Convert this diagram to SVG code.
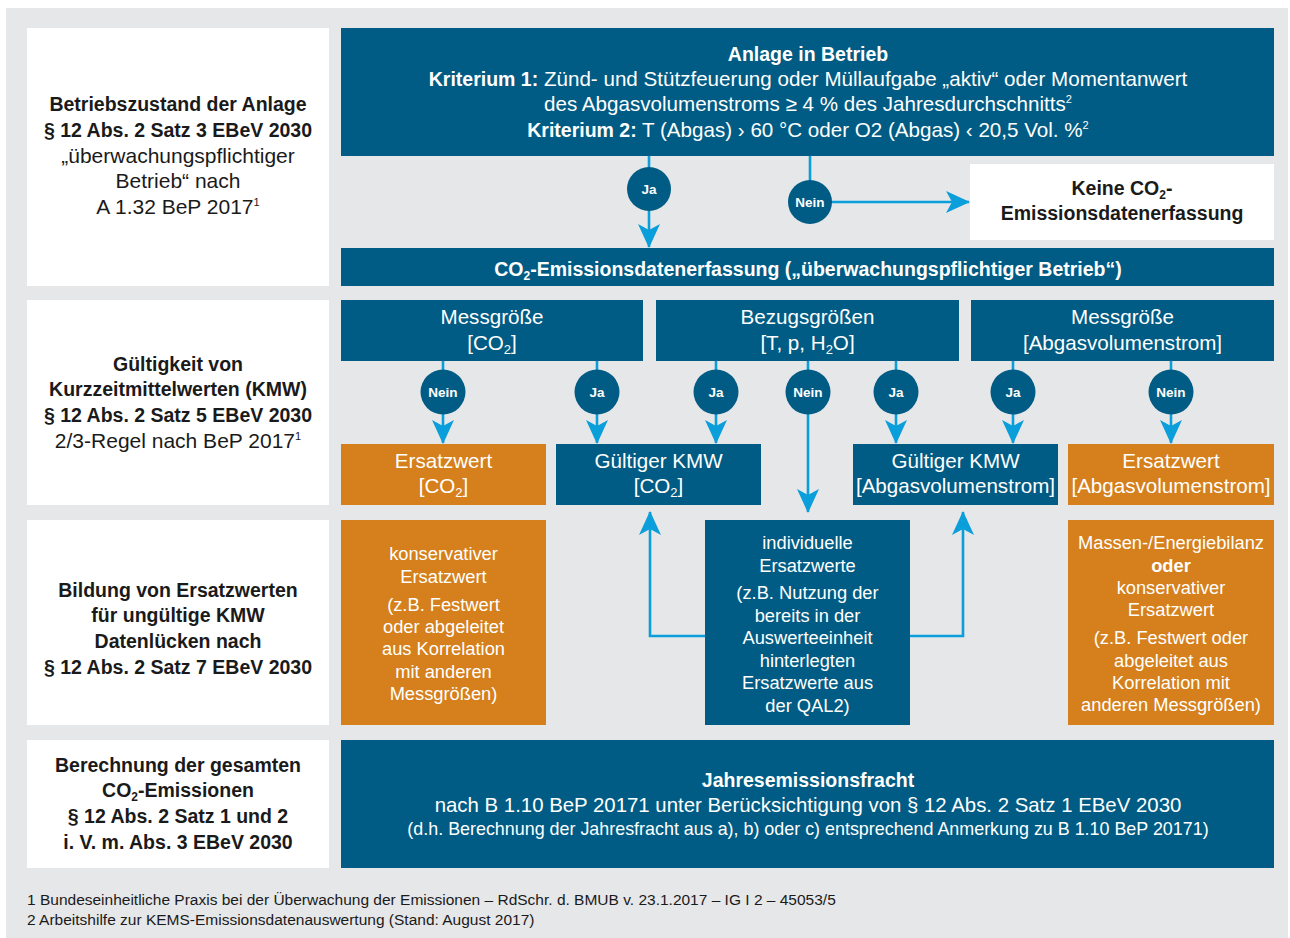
<svg xmlns="http://www.w3.org/2000/svg" width="1290" height="938" viewBox="0 0 1290 938">
<style>
text{font-family:"Liberation Sans",Arial,sans-serif;text-anchor:middle}
.w{fill:#ffffff}
.k{fill:#1a1a1a}
.b{font-weight:bold;font-size:19.5px}
.blue{fill:#005c84}
.orange{fill:#d5801c}
.white{fill:#ffffff}
.f21{font-size:21px}
.f206{font-size:20.6px}
.f18{font-size:18.3px}
.lbl{font-size:13.5px;font-weight:bold;fill:#ffffff}
.con{stroke:#0a9edb;stroke-width:2.6;fill:none}
.foot{font-size:15.5px;text-anchor:start;fill:#1a1a1a}
</style>
<defs>
<marker id="ah" markerUnits="userSpaceOnUse" viewBox="0 0 24 22" markerWidth="24" markerHeight="22" refX="23" refY="11" orient="auto">
<path d="M0,0 L24,11 L0,22 L6,11 z" fill="#0a9edb"/>
</marker>
</defs>
<rect x="6" y="8" width="1282" height="930" fill="#e6e7e9"/>

<g id="left-col">
<g id="l1"><rect x="27" y="28" width="302" height="258" class="white"/>
<text class="k b" x="178" y="111">Betriebszustand der Anlage</text>
<text class="k b" x="178" y="137">§ 12 Abs. 2 Satz 3 EBeV 2030</text>
<text class="k f21" x="178" y="163">„überwachungspflichtiger</text>
<text class="k f21" x="178" y="188">Betrieb“ nach</text>
<text class="k f21" x="178" y="214">A 1.32 BeP 2017<tspan font-size="11" dy="-8">1</tspan></text>
</g>
<g id="l2"><rect x="27" y="300" width="302" height="205" class="white"/>
<text class="k b" x="178" y="371">Gültigkeit von</text>
<text class="k b" x="178" y="396">Kurzzeitmittelwerten (KMW)</text>
<text class="k b" x="178" y="422">§ 12 Abs. 2 Satz 5 EBeV 2030</text>
<text class="k f21" x="178" y="448">2/3-Regel nach BeP 2017<tspan font-size="11" dy="-8">1</tspan></text>
</g>
<g id="l3"><rect x="27" y="520" width="302" height="205" class="white"/>
<text class="k b" x="178" y="597">Bildung von Ersatzwerten</text>
<text class="k b" x="178" y="622">für ungültige KMW</text>
<text class="k b" x="178" y="648">Datenlücken nach</text>
<text class="k b" x="178" y="674">§ 12 Abs. 2 Satz 7 EBeV 2030</text>
</g>
<g id="l4"><rect x="27" y="740" width="302" height="128" class="white"/>
<text class="k b" x="178" y="772">Berechnung der gesamten</text>
<text class="k b" x="178" y="797">CO<tspan font-size="12" dy="4">2</tspan><tspan dy="-4">-Emissionen</tspan></text>
<text class="k b" x="178" y="823">§ 12 Abs. 2 Satz 1 und 2</text>
<text class="k b" x="178" y="849">i. V. m. Abs. 3 EBeV 2030</text>
</g>
</g>

<g id="connectors">
<line class="con" x1="649" y1="156" x2="649" y2="247" marker-end="url(#ah)"/>
<polyline class="con" points="810,156 810,202 969,202" marker-end="url(#ah)"/>
<line class="con" x1="443" y1="361" x2="443" y2="443" marker-end="url(#ah)"/>
<line class="con" x1="597" y1="361" x2="597" y2="443" marker-end="url(#ah)"/>
<line class="con" x1="716" y1="361" x2="716" y2="443" marker-end="url(#ah)"/>
<line class="con" x1="808" y1="361" x2="808" y2="512" marker-end="url(#ah)"/>
<line class="con" x1="896" y1="361" x2="896" y2="443" marker-end="url(#ah)"/>
<line class="con" x1="1013" y1="361" x2="1013" y2="443" marker-end="url(#ah)"/>
<line class="con" x1="1171" y1="361" x2="1171" y2="443" marker-end="url(#ah)"/>
<polyline class="con" points="705,636 650,636 650,512" marker-end="url(#ah)"/>
<polyline class="con" points="910,636 963,636 963,512" marker-end="url(#ah)"/>
</g>

<g id="anlage"><rect x="341" y="28" width="933" height="128" class="blue"/>
<text class="w b" x="808" y="61">Anlage in Betrieb</text>
<text class="w f206" x="808" y="86"><tspan class="b">Kriterium 1:</tspan> Zünd- und Stützfeuerung oder Müllaufgabe „aktiv“ oder Momentanwert</text>
<text class="w f206" x="808" y="111">des Abgasvolumenstroms ≥ 4 % des Jahresdurchschnitts<tspan font-size="11" dy="-8">2</tspan></text>
<text class="w f206" x="808" y="137"><tspan class="b">Kriterium 2:</tspan> T (Abgas) › 60 °C oder O2 (Abgas) ‹ 20,5 Vol. %<tspan font-size="11" dy="-8">2</tspan></text>
</g>
<g id="ja-top"><circle cx="649" cy="189" r="22" class="blue"/><text class="lbl" x="649" y="194">Ja</text></g>
<g id="nein-top"><circle cx="810" cy="202" r="22" class="blue"/><text class="lbl" x="810" y="207">Nein</text></g>
<g id="keine"><rect x="970" y="164" width="304" height="76" class="white"/>
<text class="k b" x="1122" y="195">Keine CO<tspan font-size="12" dy="4">2</tspan><tspan dy="-4">-</tspan></text>
<text class="k b" x="1122" y="220">Emissionsdatenerfassung</text>
</g>
<g id="erfassung"><rect x="341" y="248" width="933" height="38" class="blue"/>
<text class="w b" x="808" y="276">CO<tspan font-size="12" dy="4">2</tspan><tspan dy="-4">-Emissionsdatenerfassung („überwachungspflichtiger Betrieb“)</tspan></text>
</g>

<g id="mess-co2"><rect x="341" y="300" width="302" height="61" class="blue"/>
<text class="w f206" x="492" y="324">Messgröße</text>
<text class="w f206" x="492" y="350">[CO<tspan font-size="13" dy="4">2</tspan><tspan dy="-4">]</tspan></text>
</g>
<g id="bezug"><rect x="656" y="300" width="303" height="61" class="blue"/>
<text class="w f206" x="807.5" y="324">Bezugsgrößen</text>
<text class="w f206" x="807.5" y="350">[T, p, H<tspan font-size="13" dy="4">2</tspan><tspan dy="-4">O]</tspan></text>
</g>
<g id="mess-abgas"><rect x="971" y="300" width="303" height="61" class="blue"/>
<text class="w f206" x="1122.5" y="324">Messgröße</text>
<text class="w f206" x="1122.5" y="350">[Abgasvolumenstrom]</text>
</g>

<g id="c1"><circle cx="443" cy="392" r="22.5" class="blue"/><text class="lbl" x="443" y="397">Nein</text></g>
<g id="c2"><circle cx="597" cy="392" r="22.5" class="blue"/><text class="lbl" x="597" y="397">Ja</text></g>
<g id="c3"><circle cx="716" cy="392" r="22.5" class="blue"/><text class="lbl" x="716" y="397">Ja</text></g>
<g id="c4"><circle cx="808" cy="392" r="22.5" class="blue"/><text class="lbl" x="808" y="397">Nein</text></g>
<g id="c5"><circle cx="896" cy="392" r="22.5" class="blue"/><text class="lbl" x="896" y="397">Ja</text></g>
<g id="c6"><circle cx="1013" cy="392" r="22.5" class="blue"/><text class="lbl" x="1013" y="397">Ja</text></g>
<g id="c7"><circle cx="1171" cy="392" r="22.5" class="blue"/><text class="lbl" x="1171" y="397">Nein</text></g>

<g id="ersatz-co2"><rect x="341" y="444" width="205" height="61" class="orange"/>
<text class="w f206" x="443.5" y="468">Ersatzwert</text>
<text class="w f206" x="443.5" y="493">[CO<tspan font-size="13" dy="4">2</tspan><tspan dy="-4">]</tspan></text>
</g>
<g id="kmw-co2"><rect x="556" y="444" width="205" height="61" class="blue"/>
<text class="w f206" x="658.5" y="468">Gültiger KMW</text>
<text class="w f206" x="658.5" y="493">[CO<tspan font-size="13" dy="4">2</tspan><tspan dy="-4">]</tspan></text>
</g>
<g id="kmw-abgas"><rect x="853" y="444" width="205" height="61" class="blue"/>
<text class="w f206" x="955.5" y="468">Gültiger KMW</text>
<text class="w f206" x="955.5" y="493">[Abgasvolumenstrom]</text>
</g>
<g id="ersatz-abgas"><rect x="1068" y="444" width="206" height="61" class="orange"/>
<text class="w f206" x="1171" y="468">Ersatzwert</text>
<text class="w f206" x="1171" y="493">[Abgasvolumenstrom]</text>
</g>

<g id="konservativ"><rect x="341" y="520" width="205" height="205" class="orange"/>
<text class="w f18" x="443.5" y="560">konservativer</text>
<text class="w f18" x="443.5" y="583">Ersatzwert</text>
<text class="w f18" x="443.5" y="611">(z.B. Festwert</text>
<text class="w f18" x="443.5" y="633">oder abgeleitet</text>
<text class="w f18" x="443.5" y="655">aus Korrelation</text>
<text class="w f18" x="443.5" y="678">mit anderen</text>
<text class="w f18" x="443.5" y="700">Messgrößen)</text>
</g>
<g id="individuell"><rect x="705" y="520" width="205" height="205" class="blue"/>
<text class="w f18" x="807.5" y="549">individuelle</text>
<text class="w f18" x="807.5" y="572">Ersatzwerte</text>
<text class="w f18" x="807.5" y="599">(z.B. Nutzung der</text>
<text class="w f18" x="807.5" y="622">bereits in der</text>
<text class="w f18" x="807.5" y="644">Auswerteeinheit</text>
<text class="w f18" x="807.5" y="667">hinterlegten</text>
<text class="w f18" x="807.5" y="689">Ersatzwerte aus</text>
<text class="w f18" x="807.5" y="712">der QAL2)</text>
</g>
<g id="massen"><rect x="1068" y="520" width="206" height="205" class="orange"/>
<text class="w f18" x="1171" y="549">Massen-/Energiebilanz</text>
<text class="w f18" font-weight="bold" x="1171" y="572">oder</text>
<text class="w f18" x="1171" y="594">konservativer</text>
<text class="w f18" x="1171" y="616">Ersatzwert</text>
<text class="w f18" x="1171" y="644">(z.B. Festwert oder</text>
<text class="w f18" x="1171" y="667">abgeleitet aus</text>
<text class="w f18" x="1171" y="689">Korrelation mit</text>
<text class="w f18" x="1171" y="711">anderen Messgrößen)</text>
</g>

<g id="jahres"><rect x="341" y="740" width="933" height="128" class="blue"/>
<text class="w b" x="808" y="787">Jahresemissionsfracht</text>
<text class="w" font-size="20.4" x="808" y="812">nach B 1.10 BeP 20171 unter Berücksichtigung von § 12 Abs. 2 Satz 1 EBeV 2030</text>
<text class="w" font-size="17.9" x="808" y="835">(d.h. Berechnung der Jahresfracht aus a), b) oder c) entsprechend Anmerkung zu B 1.10 BeP 20171)</text>
</g>

<g id="footnotes">
<text class="foot" x="27" y="905">1 Bundeseinheitliche Praxis bei der Überwachung der Emissionen – RdSchr. d. BMUB v. 23.1.2017 – IG I 2 – 45053/5</text>
<text class="foot" x="27" y="925">2 Arbeitshilfe zur KEMS-Emissionsdatenauswertung (Stand: August 2017)</text>
</g>
</svg>
